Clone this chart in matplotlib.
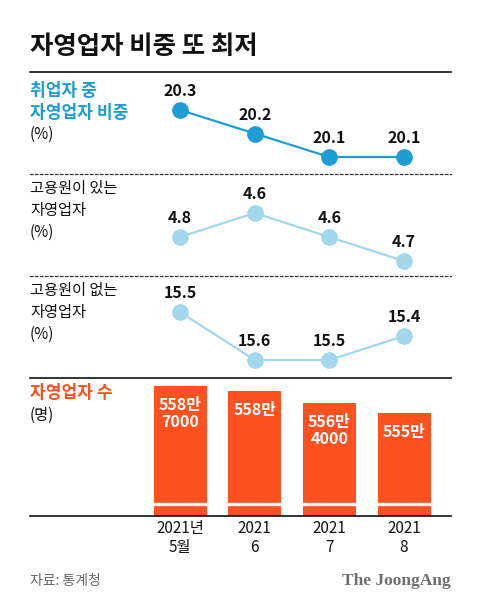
import matplotlib
matplotlib.use("Agg")
from matplotlib import pyplot as plt

#---------------------------------Data--------------------------------
months = ["2021년\n5월", "2021\n6", "2021\n7", "2021\n8"]
share_all = [20.3, 20.2, 20.1, 20.1]          # 취업자 중 자영업자 비중
with_staff = [4.8, 4.6, 4.6, 4.7]             # labels as printed
with_staff_drawn = [4.7, 4.8, 4.7, 4.6]       # marker heights as drawn in the graphic
no_staff = [15.5, 15.6, 15.5, 15.4]           # labels as printed
no_staff_drawn = [15.6, 15.4, 15.4, 15.5]     # marker heights as drawn in the graphic
owners = [5587000, 5580000, 5564000, 5550000]
owner_labels = ["558만\n7000", "558만", "556만\n4000", "555만"]

#---------------------------------Style--------------------------------
plt.rcParams['font.family'] = ['Noto Sans CJK KR', 'DejaVu Sans']
W, H = 480, 609
DARK_BLUE = "#1c9dd3"
LIGHT_BLUE = "#a2d7ec"
ORANGE = "#fd5220"
XLIM = (-2.009, 3.629)

fig = plt.figure(figsize=(W/100, H/100), dpi=100)
fig.patch.set_facecolor("white")

def box(top, bottom, left=30, right=451):
	return [left/W, 1-bottom/H, (right-left)/W, (bottom-top)/H]

def ftext(x, y, s, **kw):
	fig.text(x/W, 1-y/H, s, va='center', **kw)

def clean(ax):
	ax.set_xlim(*XLIM)
	ax.set_xticks([])
	ax.set_yticks([])
	for s in ["left", "right", "top"]:
		ax.spines[s].set_visible(False)
	ax.patch.set_alpha(0)

def linePanel(top, bottom, vals, labels, ylim, color, solid_top):
	ax = fig.add_axes(box(top, bottom))
	clean(ax)
	xs = range(len(vals))
	ax.plot(xs, vals, color=color, lw=1.6, marker='o', markersize=11, clip_on=False)
	for x, v, l in zip(xs, vals, labels):
		ax.annotate(str(l), (x, v), xytext=(0, 13.5), textcoords='offset points',
			ha='center', va='center', fontsize=11.5, fontweight='bold', color='#111111')
	ax.set_ylim(*ylim)
	ax.spines["bottom"].set_linestyle((0, (2, 2)))
	ax.spines["bottom"].set_linewidth(0.9)
	ax.spines["bottom"].set_color("#333333")
	if solid_top:
		ax.spines["top"].set_visible(True)
		ax.spines["top"].set_linewidth(1.2)
		ax.spines["top"].set_color("#111111")
	return ax

#---------------------------------Title--------------------------------
ftext(30, 47, "자영업자 비중 또 최저", fontsize=18.3, fontweight='black', color='#111111')

#---------------------------------Line panels--------------------------------
linePanel(72, 174, share_all, share_all, (20.0277, 20.4617), DARK_BLUE, True)
ftext(30, 91, "취업자 중", fontsize=12.3, fontweight='bold', color=DARK_BLUE)
ftext(30, 113, "자영업자 비중", fontsize=12.3, fontweight='bold', color=DARK_BLUE)
ftext(30, 134, "(%)", fontsize=11, color='#111111')

linePanel(174, 276, with_staff_drawn, with_staff, (4.5375, 4.9625), LIGHT_BLUE, False)
ftext(30, 188, "고용원이 있는", fontsize=11, color='#111111')
ftext(30, 210, "자영업자", fontsize=11, color='#111111')
ftext(30, 232, "(%)", fontsize=11, color='#111111')

ax3 = linePanel(276, 378, no_staff_drawn, no_staff, (15.325, 15.75), LIGHT_BLUE, False)
ax3.spines["bottom"].set_visible(False)
ftext(30, 290, "고용원이 없는", fontsize=11, color='#111111')
ftext(30, 313, "자영업자", fontsize=11, color='#111111')
ftext(30, 334, "(%)", fontsize=11, color='#111111')

#---------------------------------Bar panel--------------------------------
axb = fig.add_axes(box(378, 516))
axb.patch.set_alpha(0)
axb.set_xlim(*XLIM)
axb.set_ylim(5408890, 5597950)
xs = list(range(len(owners)))
axb.bar(xs, owners, width=0.71, color=ORANGE, zorder=2)
for x, v, l in zip(xs, owners, owner_labels):
	axb.annotate(l, (x, v), xytext=(0, -8), textcoords='offset points', ha='center', va='top',
		fontsize=11.5, fontweight='bold', color='white', linespacing=1.05, zorder=4)
# axis break band
axb.plot([0, 1], [0.086, 0.086], transform=axb.transAxes, color='white', lw=2.4, zorder=3)
for s in ["left", "right"]:
	axb.spines[s].set_visible(False)
axb.spines["top"].set_linewidth(1.2)
axb.spines["top"].set_color("#111111")
axb.spines["bottom"].set_linewidth(1.2)
axb.spines["bottom"].set_color("#111111")
axb.spines["bottom"].set_zorder(5)
axb.set_yticks([])
axb.set_xticks(xs)
axb.set_xticklabels(months, fontsize=11, color='#111111', linespacing=1.15)
axb.tick_params(axis='x', length=0, pad=3)
ftext(30, 393, "자영업자 수", fontsize=12.3, fontweight='bold', color=ORANGE)
ftext(30, 415, "(명)", fontsize=11, color='#111111')

#---------------------------------Footer--------------------------------
ftext(30, 581, "자료: 통계청", fontsize=10, color='#666666')
fig.text(451/W, 1-581/H, "The JoongAng", ha='right', va='center', fontsize=12.5,
	fontweight='bold', color='#6e6e6e', family=['Liberation Serif', 'DejaVu Serif'])

plt.savefig("out.png", dpi=100)
